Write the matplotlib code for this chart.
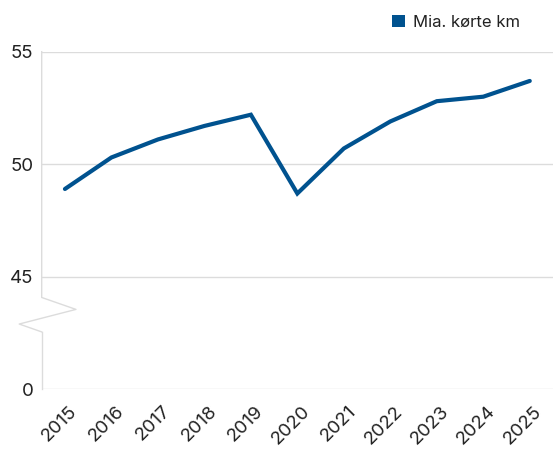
import numpy as np
import matplotlib.pyplot as plt
from matplotlib.patches import Patch
import matplotlib.transforms as mtransforms

# Data
years = ['2015', '2016', '2017', '2018', '2019', '2020',
         '2021', '2022', '2023', '2024', '2025']
km = [48.9, 50.3, 51.1, 51.7, 52.2, 48.7, 50.7, 51.9, 52.8, 53.0, 53.7]
ytick_values = [0, 45, 50, 55]
series_label = 'Mia. kørte km'

# Broken axis: values >= 45 are shown as is, 0 sits at 40 on the display scale
break_low = 40.0
def to_display(v):
    return v if v >= 45 else break_low

line_color = '#00528f'
grid_color = '#dcdcdc'
text_color = '#222222'

plt.rcParams['font.family'] = ['Inter', 'DejaVu Sans']
plt.rcParams['font.size'] = 13.5

fig = plt.figure(figsize=(5.53, 4.51), dpi=100)
ax = fig.add_axes([0.0754, 0.1368, 0.9246, 0.7486])

x = np.arange(len(years))
ax.plot(x, km, color=line_color, linewidth=3, solid_capstyle='round',
        solid_joinstyle='miter', zorder=3)

ax.set_xlim(-0.5, len(years) - 0.5)
ax.set_ylim(break_low, 55)

# Gridlines
for v in ytick_values:
    ax.axhline(to_display(v), color=grid_color, linewidth=1, zorder=1)

ax.set_yticks([to_display(v) for v in ytick_values])
ax.set_yticklabels([str(v) for v in ytick_values], color=text_color)
ax.set_xticks(x)
ax.set_xticklabels(years, rotation=45, ha='right', va='center',
                   rotation_mode='anchor', color=text_color)
ax.tick_params(axis='both', length=0)
ax.tick_params(axis='y', pad=6)
ax.tick_params(axis='x', pad=14)
for lbl in ax.get_xticklabels():
    lbl.set_transform(lbl.get_transform() + mtransforms.ScaledTranslation(7 / 72, 0, fig.dpi_scale_trans))

for s in ax.spines.values():
    s.set_visible(False)

# Left axis line with zigzag break
trans = mtransforms.blended_transform_factory(ax.transAxes, ax.transData)
ax.plot([0, 0], [break_low, 42.55], color=grid_color, linewidth=1,
        transform=trans, clip_on=False, zorder=1)
ax.plot([0, -0.044, 0.067, 0, 0], [42.55, 42.9, 43.55, 44.08, 55],
        color=grid_color, linewidth=1, transform=trans, clip_on=False, zorder=1)

fig.legend(handles=[Patch(facecolor=line_color, edgecolor='none', label=series_label)],
           loc='upper right', bbox_to_anchor=(0.968, 1.0), frameon=False,
           handlelength=0.75, handleheight=0.75, handletextpad=0.5,
           fontsize=12, labelcolor=text_color)

fig.savefig('out.png', dpi=100)
